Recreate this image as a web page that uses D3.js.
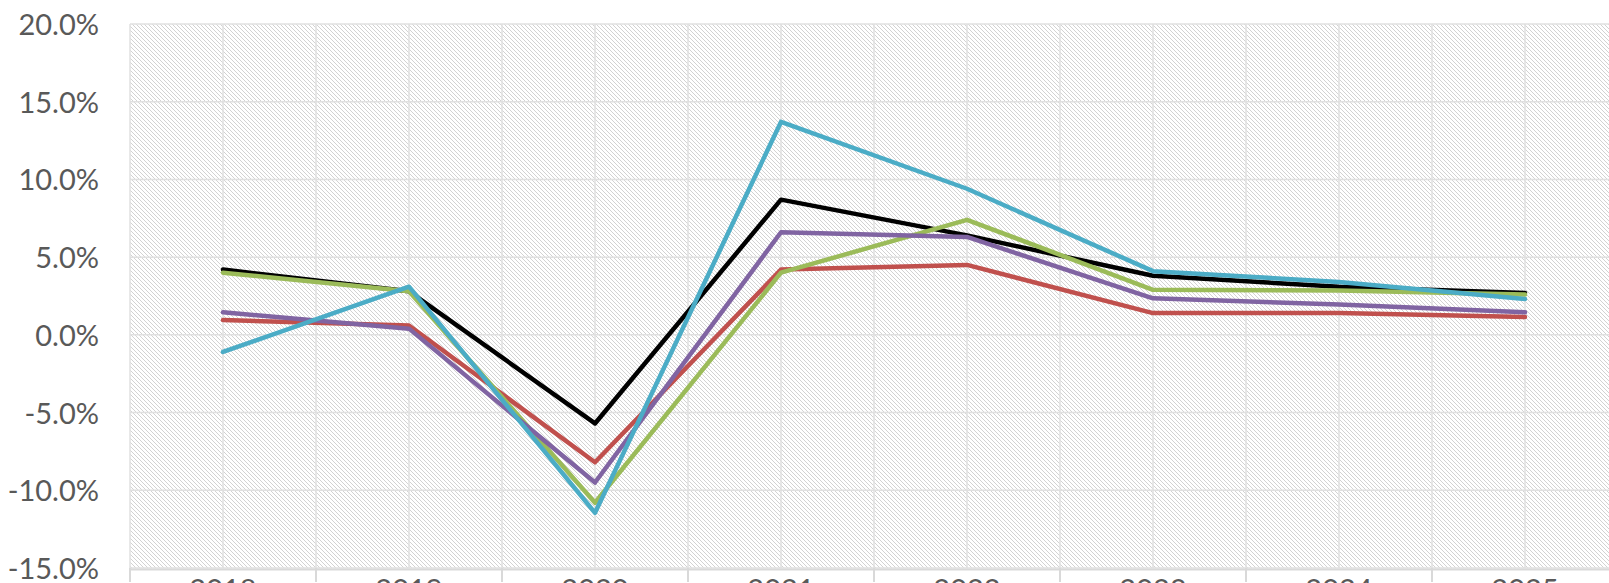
<!DOCTYPE html>
<html>
<head>
<meta charset="utf-8">
<script src="https://cdn.jsdelivr.net/npm/d3@7"></script>
<style>
  html, body { margin: 0; padding: 0; background: #fff; overflow: hidden; }
  svg { display: block; }
  .tick text { font-family: Lato, "Open Sans", sans-serif; fill: #595959; }
</style>
</head>
<body>
<div id="chart"></div>
<script>
// Chart values (percent)

var years = ["2018", "2019", "2020", "2021", "2022", "2023", "2024", "2025"];

var seriesBlack  = [4.2, 2.8, -5.7, 8.7, 6.4, 3.8, 3.1, 2.7];
var seriesRed    = [0.95, 0.6, -8.2, 4.2, 4.5, 1.4, 1.4, 1.15];
var seriesGreen  = [4.0, 2.8, -10.8, 4.0, 7.4, 2.9, 2.85, 2.6];
var seriesPurple = [1.45, 0.4, -9.5, 6.6, 6.3, 2.35, 1.95, 1.45];
var seriesCyan   = [-1.1, 3.1, -11.45, 13.7, 9.4, 4.1, 3.4, 2.3];

var yTicks = [-15, -10, -5, 0, 5, 10, 15, 20];

var lineColors = ["#000000", "#c0504d", "#9bbb59", "#8064a2", "#4bacc6"];

var allSeries = [seriesBlack, seriesRed, seriesGreen, seriesPurple, seriesCyan];

// Size of the page and plot area
var width = 1609,
    height = 583;

var plotLeft = 130,
    plotRight = 1618,   // plot runs past the right edge, like the source
    plotTop = 24,
    plotBottom = 568;

var svg = d3.select("#chart")
  .append("svg")
  .attr("width", width)
  .attr("height", height);

// hatch fill for the plot background
var pattern = svg.append("defs")
  .append("pattern")
  .attr("id", "hatch")
  .attr("patternUnits", "userSpaceOnUse")
  .attr("width", 4)
  .attr("height", 4);

pattern.append("rect")
  .attr("width", 4).attr("height", 4)
  .attr("fill", "#ffffff");

d3.range(4).forEach(function(i) {
  pattern.append("rect")
    .attr("x", i).attr("y", i)
    .attr("width", 1).attr("height", 1)
    .attr("fill", "#d2d2d2");
});

var x = d3.scaleBand()
  .domain(years)
  .range([plotLeft, plotRight]);

var y = d3.scaleLinear()
  .domain([d3.min(yTicks), d3.max(yTicks)])
  .range([plotBottom, plotTop]);

svg.append("rect")
  .attr("x", plotLeft)
  .attr("y", plotTop)
  .attr("width", plotRight - plotLeft)
  .attr("height", plotBottom - plotTop)
  .attr("fill", "url(#hatch)");

// horizontal gridlines
svg.append("g")
  .selectAll("line")
  .data(yTicks)
  .enter()
  .append("line")
  .attr("x1", plotLeft)
  .attr("x2", plotRight)
  .attr("y1", function(d) { return y(d); })
  .attr("y2", function(d) { return y(d); })
  .style("stroke", "#e0e0e0")
  .style("stroke-width", 1.5);

// vertical gridlines: category edges and centres
var vLines = [];
years.forEach(function(yr) {
  vLines.push(x(yr));
  vLines.push(x(yr) + x.bandwidth() / 2);
});
vLines.push(plotRight);

svg.append("g")
  .selectAll("line")
  .data(vLines)
  .enter()
  .append("line")
  .attr("x1", function(d) { return d; })
  .attr("x2", function(d) { return d; })
  .attr("y1", plotTop)
  .attr("y2", plotBottom)
  .style("stroke", "#e0e0e0")
  .style("stroke-width", 1.5);

// y axis labels
var fmt = d3.formatLocale({decimal: ".", thousands: ",", grouping: [3], currency: ["", ""], minus: "-"}).format(".1f");

var yAxis = svg.append("g")
  .attr("transform", "translate(" + (plotLeft - 31) + ",0)")
  .call(d3.axisLeft(y).tickValues(yTicks).tickSize(0).tickPadding(0)
    .tickFormat(function(d) { return fmt(d) + "%"; }));

yAxis.select(".domain").remove();
yAxis.selectAll("text")
  .style("font-size", "29px")
  .attr("dy", "0.36em");

// x axis: line at bottom with ticks between categories, labels centred
var xAxis = svg.append("g")
  .attr("transform", "translate(0," + (plotBottom + 1) + ")")
  .call(d3.axisBottom(x).tickSize(0).tickPadding(10));

xAxis.select(".domain")
  .style("stroke", "#d9d9d9")
  .style("stroke-width", 2);

xAxis.selectAll("text")
  .style("font-size", "29px");

svg.append("g")
  .selectAll("line")
  .data(years.map(function(yr) { return x(yr); }).concat([plotRight]))
  .enter()
  .append("line")
  .attr("x1", function(d) { return d; })
  .attr("x2", function(d) { return d; })
  .attr("y1", plotBottom)
  .attr("y2", plotBottom + 14)
  .style("stroke", "#d9d9d9")
  .style("stroke-width", 2);

// the series lines
var line = d3.line()
  .x(function(d, i) { return x(years[i]) + x.bandwidth() / 2; })
  .y(function(d) { return y(d); });

svg.append("g")
  .selectAll("path")
  .data(allSeries)
  .enter()
  .append("path")
  .attr("d", line)
  .style("fill", "none")
  .style("stroke", function(d, i) { return lineColors[i]; })
  .style("stroke-width", 4.5)
  .style("stroke-linejoin", "round")
  .style("stroke-linecap", "round");
</script>
</body>
</html>
